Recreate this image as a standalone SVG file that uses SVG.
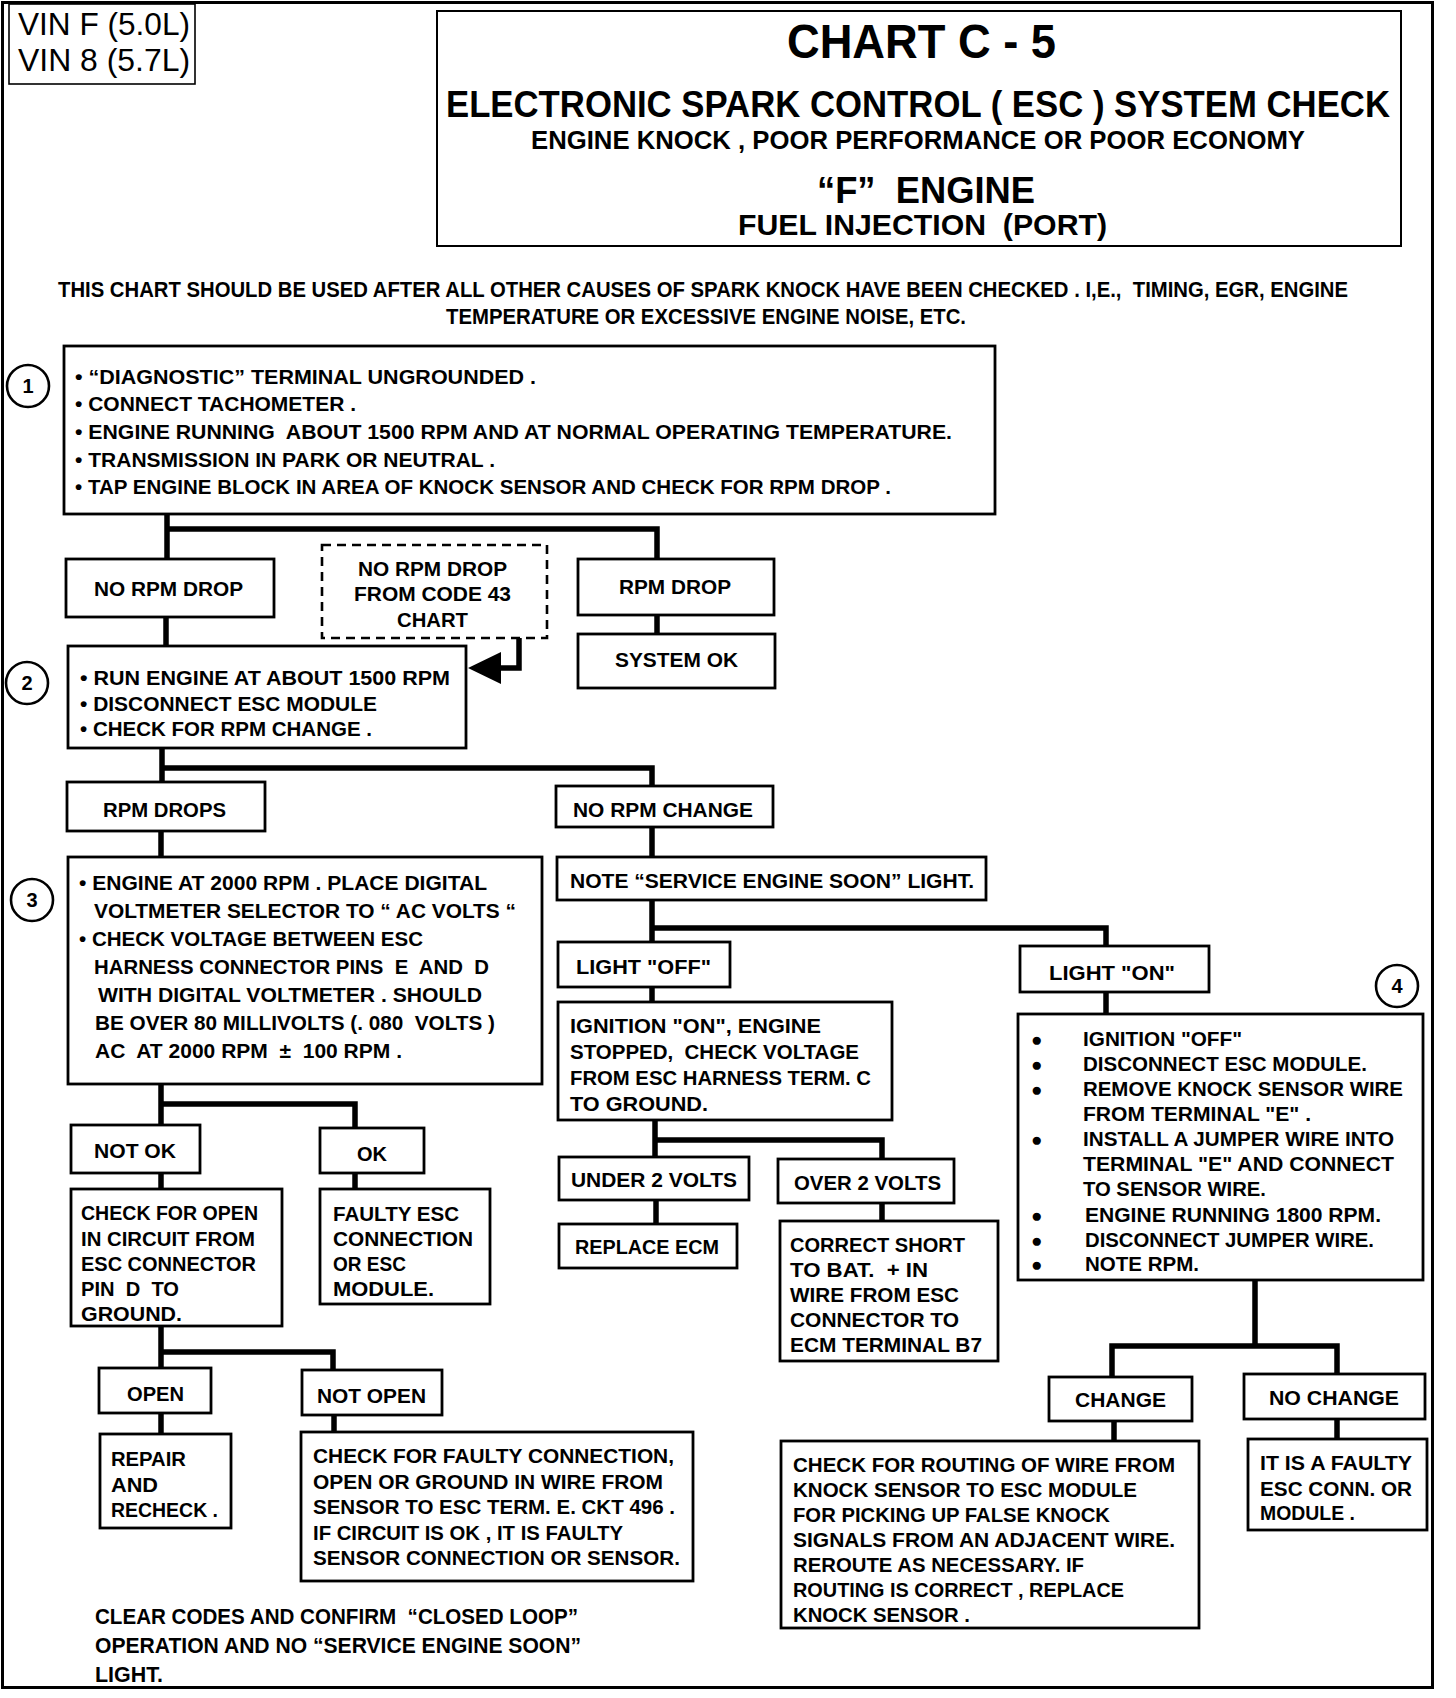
<svg xmlns="http://www.w3.org/2000/svg" width="1456" height="1698" viewBox="0 0 1456 1698">
<style>
.b{fill:#fff;stroke:#000;stroke-width:2.8}
.d{fill:#fff;stroke:#000;stroke-width:2.6;stroke-dasharray:9 6}
.c{fill:none;stroke:#000;stroke-width:5.5;stroke-linecap:square}
text{font-family:"Liberation Sans Narrow","Liberation Sans",Arial,sans-serif;font-weight:bold;font-size:21px;fill:#000}
.v{font-family:"Liberation Sans",Arial,sans-serif;font-weight:normal;font-size:31px}
.i{font-size:22px}
.n{font-family:"Liberation Sans",Arial,sans-serif;font-size:20px;text-anchor:middle}
.bu{font-family:"Liberation Sans",Arial,sans-serif;font-size:19px}
</style>
<rect x="2.5" y="2.5" width="1430" height="1685" fill="#fff" stroke="#000" stroke-width="3"/>

<g id="vin">
<rect x="9" y="4" width="186" height="80" fill="#fff" stroke="#000" stroke-width="1.6"/>
<text class="v" x="18" y="35" textLength="172" lengthAdjust="spacingAndGlyphs">VIN F (5.0L)</text>
<text class="v" x="18" y="71" textLength="172" lengthAdjust="spacingAndGlyphs">VIN 8 (5.7L)</text>
</g>

<g id="title">
<rect x="437" y="11" width="964" height="235" fill="#fff" stroke="#000" stroke-width="2"/>
<text x="787" y="58" style="font-size:49px" textLength="269" lengthAdjust="spacingAndGlyphs">CHART C - 5</text>
<text x="446" y="117" style="font-size:37px" textLength="944" lengthAdjust="spacingAndGlyphs">ELECTRONIC SPARK CONTROL ( ESC ) SYSTEM CHECK</text>
<text x="531" y="149" style="font-size:25px" textLength="774" lengthAdjust="spacingAndGlyphs">ENGINE KNOCK , POOR PERFORMANCE OR POOR ECONOMY</text>
<text x="817" y="203" style="font-size:36px" textLength="218" lengthAdjust="spacingAndGlyphs">“F”&#160; ENGINE</text>
<text x="738" y="235" style="font-size:30px" textLength="369" lengthAdjust="spacingAndGlyphs">FUEL INJECTION&#160; (PORT)</text>
</g>

<g id="intro">
<text class="i" x="58" y="297" textLength="1290" lengthAdjust="spacingAndGlyphs">THIS CHART SHOULD BE USED AFTER ALL OTHER CAUSES OF SPARK KNOCK HAVE BEEN CHECKED . I,E.,&#160; TIMING, EGR, ENGINE</text>
<text class="i" x="446" y="324" textLength="520" lengthAdjust="spacingAndGlyphs">TEMPERATURE OR EXCESSIVE ENGINE NOISE, ETC.</text>
</g>

<g id="connectors">
<path class="c" d="M167 514 V559 M167 529 H657 V559"/>
<path class="c" d="M166 617 V645"/>
<path class="c" d="M657 615 V634"/>
<path class="c" d="M519 638 V668 H498"/>
<polygon points="468,668 501,652 501,684" fill="#000"/>
<path class="c" d="M162 748 V782 M162 768 H652 V786"/>
<path class="c" d="M161 832 V857"/>
<path class="c" d="M652 828 V857"/>
<path class="c" d="M652 900 V942 M652 928 H1106 V946"/>
<path class="c" d="M652 988 V1002"/>
<path class="c" d="M1106 992 V1014"/>
<path class="c" d="M161 1085 V1125 M161 1104 H355 V1128"/>
<path class="c" d="M161 1173 V1189"/>
<path class="c" d="M355 1173 V1189"/>
<path class="c" d="M161 1326 V1368 M161 1352 H333 V1370"/>
<path class="c" d="M161 1413 V1434"/>
<path class="c" d="M334 1415 V1432"/>
<path class="c" d="M655 1120 V1157 M655 1140 H882 V1159"/>
<path class="c" d="M656 1200 V1224"/>
<path class="c" d="M882 1203 V1221"/>
<path class="c" d="M1255 1280 V1346 M1112 1377 V1346 H1337 V1374"/>
<path class="c" d="M1114 1421 V1441"/>
<path class="c" d="M1337 1419 V1439"/>
</g>

<g id="step1">
<circle cx="28" cy="386" r="21" fill="#fff" stroke="#000" stroke-width="2.6"/>
<text class="n" x="28" y="393">1</text>
</g>
<g id="step2">
<circle cx="27" cy="683" r="21" fill="#fff" stroke="#000" stroke-width="2.6"/>
<text class="n" x="27" y="690">2</text>
</g>
<g id="step3">
<circle cx="32" cy="900" r="21" fill="#fff" stroke="#000" stroke-width="2.6"/>
<text class="n" x="32" y="907">3</text>
</g>
<g id="step4">
<circle cx="1397" cy="986" r="21" fill="#fff" stroke="#000" stroke-width="2.6"/>
<text class="n" x="1397" y="993">4</text>
</g>

<g id="box1">
<rect class="b" x="64" y="346" width="931" height="168"/>
<text x="75" y="384" textLength="461" lengthAdjust="spacingAndGlyphs">• “DIAGNOSTIC” TERMINAL UNGROUNDED .</text>
<text x="75" y="411" textLength="281" lengthAdjust="spacingAndGlyphs">• CONNECT TACHOMETER .</text>
<text x="75" y="439" textLength="877" lengthAdjust="spacingAndGlyphs">• ENGINE RUNNING&#160; ABOUT 1500 RPM AND AT NORMAL OPERATING TEMPERATURE.</text>
<text x="75" y="467" textLength="420" lengthAdjust="spacingAndGlyphs">• TRANSMISSION IN PARK OR NEUTRAL .</text>
<text x="75" y="494" textLength="816" lengthAdjust="spacingAndGlyphs">• TAP ENGINE BLOCK IN AREA OF KNOCK SENSOR AND CHECK FOR RPM DROP .</text>
</g>

<g id="no-rpm-drop">
<rect class="b" x="66" y="559" width="208" height="58"/>
<text x="94" y="596" textLength="149" lengthAdjust="spacingAndGlyphs">NO RPM DROP</text>
</g>

<g id="code43">
<rect class="d" x="322" y="545" width="225" height="93"/>
<text x="358" y="576" textLength="149" lengthAdjust="spacingAndGlyphs">NO RPM DROP</text>
<text x="354" y="601" textLength="157" lengthAdjust="spacingAndGlyphs">FROM CODE 43</text>
<text x="397" y="627" textLength="71" lengthAdjust="spacingAndGlyphs">CHART</text>
</g>

<g id="rpm-drop">
<rect class="b" x="578" y="559" width="196" height="56"/>
<text x="619" y="594" textLength="112" lengthAdjust="spacingAndGlyphs">RPM DROP</text>
</g>

<g id="system-ok">
<rect class="b" x="578" y="634" width="197" height="54"/>
<text x="615" y="667" textLength="123" lengthAdjust="spacingAndGlyphs">SYSTEM OK</text>
</g>

<g id="box2">
<rect class="b" x="68" y="646" width="398" height="102"/>
<text x="80" y="685" textLength="370" lengthAdjust="spacingAndGlyphs">• RUN ENGINE AT ABOUT 1500 RPM</text>
<text x="80" y="711" textLength="297" lengthAdjust="spacingAndGlyphs">• DISCONNECT ESC MODULE</text>
<text x="80" y="736" textLength="292" lengthAdjust="spacingAndGlyphs">• CHECK FOR RPM CHANGE .</text>
</g>

<g id="rpm-drops">
<rect class="b" x="67" y="782" width="198" height="49"/>
<text x="103" y="817" textLength="123" lengthAdjust="spacingAndGlyphs">RPM DROPS</text>
</g>

<g id="no-rpm-change">
<rect class="b" x="556" y="786" width="217" height="41"/>
<text x="573" y="817" textLength="180" lengthAdjust="spacingAndGlyphs">NO RPM CHANGE</text>
</g>

<g id="box3">
<rect class="b" x="68" y="857" width="474" height="227"/>
<text x="79" y="890" textLength="408" lengthAdjust="spacingAndGlyphs">• ENGINE AT 2000 RPM . PLACE DIGITAL</text>
<text x="94" y="918" textLength="422" lengthAdjust="spacingAndGlyphs">VOLTMETER SELECTOR TO “ AC VOLTS “</text>
<text x="79" y="946" textLength="344" lengthAdjust="spacingAndGlyphs">• CHECK VOLTAGE BETWEEN ESC</text>
<text x="94" y="974" textLength="395" lengthAdjust="spacingAndGlyphs">HARNESS CONNECTOR PINS&#160; E&#160; AND&#160; D</text>
<text x="98" y="1002" textLength="384" lengthAdjust="spacingAndGlyphs">WITH DIGITAL VOLTMETER . SHOULD</text>
<text x="95" y="1030" textLength="400" lengthAdjust="spacingAndGlyphs">BE OVER 80 MILLIVOLTS (. 080&#160; VOLTS )</text>
<text x="95" y="1058" textLength="307" lengthAdjust="spacingAndGlyphs">AC&#160; AT 2000 RPM&#160; ±&#160; 100 RPM .</text>
</g>

<g id="note">
<rect class="b" x="557" y="857" width="429" height="43"/>
<text x="570" y="888" textLength="404" lengthAdjust="spacingAndGlyphs">NOTE “SERVICE ENGINE SOON” LIGHT.</text>
</g>

<g id="light-off">
<rect class="b" x="558" y="942" width="172" height="45"/>
<text x="576" y="974" textLength="135" lengthAdjust="spacingAndGlyphs">LIGHT "OFF"</text>
</g>

<g id="light-on">
<rect class="b" x="1020" y="946" width="189" height="46"/>
<text x="1049" y="980" textLength="126" lengthAdjust="spacingAndGlyphs">LIGHT "ON"</text>
</g>

<g id="ignition-on">
<rect class="b" x="558" y="1002" width="334" height="118"/>
<text x="570" y="1033" textLength="251" lengthAdjust="spacingAndGlyphs">IGNITION "ON", ENGINE</text>
<text x="570" y="1059" textLength="289" lengthAdjust="spacingAndGlyphs">STOPPED,&#160; CHECK VOLTAGE</text>
<text x="570" y="1085" textLength="301" lengthAdjust="spacingAndGlyphs">FROM ESC HARNESS TERM. C</text>
<text x="570" y="1111" textLength="138" lengthAdjust="spacingAndGlyphs">TO GROUND.</text>
</g>

<g id="box4">
<rect class="b" x="1018" y="1014" width="405" height="266"/>
<text class="bu" x="1031" y="1046">●</text>
<text class="bu" x="1031" y="1071">●</text>
<text class="bu" x="1031" y="1096">●</text>
<text class="bu" x="1031" y="1146">●</text>
<text class="bu" x="1031" y="1222">●</text>
<text class="bu" x="1031" y="1247">●</text>
<text class="bu" x="1031" y="1271">●</text>
<text x="1083" y="1046" textLength="159" lengthAdjust="spacingAndGlyphs">IGNITION "OFF"</text>
<text x="1083" y="1071" textLength="284" lengthAdjust="spacingAndGlyphs">DISCONNECT ESC MODULE.</text>
<text x="1083" y="1096" textLength="320" lengthAdjust="spacingAndGlyphs">REMOVE KNOCK SENSOR WIRE</text>
<text x="1083" y="1121" textLength="228" lengthAdjust="spacingAndGlyphs">FROM TERMINAL "E" .</text>
<text x="1083" y="1146" textLength="311" lengthAdjust="spacingAndGlyphs">INSTALL A JUMPER WIRE INTO</text>
<text x="1083" y="1171" textLength="311" lengthAdjust="spacingAndGlyphs">TERMINAL "E" AND CONNECT</text>
<text x="1083" y="1196" textLength="183" lengthAdjust="spacingAndGlyphs">TO SENSOR WIRE.</text>
<text x="1085" y="1222" textLength="296" lengthAdjust="spacingAndGlyphs">ENGINE RUNNING 1800 RPM.</text>
<text x="1085" y="1247" textLength="289" lengthAdjust="spacingAndGlyphs">DISCONNECT JUMPER WIRE.</text>
<text x="1085" y="1271" textLength="114" lengthAdjust="spacingAndGlyphs">NOTE RPM.</text>
</g>

<g id="not-ok">
<rect class="b" x="71" y="1125" width="129" height="48"/>
<text x="94" y="1158" textLength="82" lengthAdjust="spacingAndGlyphs">NOT OK</text>
</g>

<g id="ok">
<rect class="b" x="320" y="1128" width="104" height="45"/>
<text x="357" y="1161" textLength="30" lengthAdjust="spacingAndGlyphs">OK</text>
</g>

<g id="check-open">
<rect class="b" x="71" y="1189" width="211" height="137"/>
<text x="81" y="1220" textLength="177" lengthAdjust="spacingAndGlyphs">CHECK FOR OPEN</text>
<text x="81" y="1246" textLength="174" lengthAdjust="spacingAndGlyphs">IN CIRCUIT FROM</text>
<text x="81" y="1271" textLength="175" lengthAdjust="spacingAndGlyphs">ESC CONNECTOR</text>
<text x="81" y="1296" textLength="98" lengthAdjust="spacingAndGlyphs">PIN&#160; D&#160; TO</text>
<text x="81" y="1321" textLength="101" lengthAdjust="spacingAndGlyphs">GROUND.</text>
</g>

<g id="faulty-esc">
<rect class="b" x="320" y="1189" width="170" height="115"/>
<text x="333" y="1221" textLength="126" lengthAdjust="spacingAndGlyphs">FAULTY ESC</text>
<text x="333" y="1246" textLength="140" lengthAdjust="spacingAndGlyphs">CONNECTION</text>
<text x="333" y="1271" textLength="73" lengthAdjust="spacingAndGlyphs">OR ESC</text>
<text x="333" y="1296" textLength="101" lengthAdjust="spacingAndGlyphs">MODULE.</text>
</g>

<g id="open">
<rect class="b" x="99" y="1368" width="112" height="45"/>
<text x="127" y="1401" textLength="57" lengthAdjust="spacingAndGlyphs">OPEN</text>
</g>

<g id="not-open">
<rect class="b" x="302" y="1370" width="140" height="45"/>
<text x="317" y="1403" textLength="109" lengthAdjust="spacingAndGlyphs">NOT OPEN</text>
</g>

<g id="repair">
<rect class="b" x="100" y="1434" width="131" height="94"/>
<text x="111" y="1466" textLength="75" lengthAdjust="spacingAndGlyphs">REPAIR</text>
<text x="111" y="1492" textLength="47" lengthAdjust="spacingAndGlyphs">AND</text>
<text x="111" y="1517" textLength="107" lengthAdjust="spacingAndGlyphs">RECHECK .</text>
</g>

<g id="check-faulty">
<rect class="b" x="301" y="1432" width="392" height="149"/>
<text x="313" y="1463" textLength="361" lengthAdjust="spacingAndGlyphs">CHECK FOR FAULTY CONNECTION,</text>
<text x="313" y="1489" textLength="350" lengthAdjust="spacingAndGlyphs">OPEN OR GROUND IN WIRE FROM</text>
<text x="313" y="1514" textLength="362" lengthAdjust="spacingAndGlyphs">SENSOR TO ESC TERM. E. CKT 496 .</text>
<text x="313" y="1540" textLength="310" lengthAdjust="spacingAndGlyphs">IF CIRCUIT IS OK , IT IS FAULTY</text>
<text x="313" y="1565" textLength="367" lengthAdjust="spacingAndGlyphs">SENSOR CONNECTION OR SENSOR.</text>
</g>

<g id="under-2v">
<rect class="b" x="559" y="1157" width="190" height="43"/>
<text x="571" y="1187" textLength="166" lengthAdjust="spacingAndGlyphs">UNDER 2 VOLTS</text>
</g>

<g id="replace-ecm">
<rect class="b" x="559" y="1224" width="178" height="44"/>
<text x="575" y="1254" textLength="144" lengthAdjust="spacingAndGlyphs">REPLACE ECM</text>
</g>

<g id="over-2v">
<rect class="b" x="778" y="1159" width="176" height="44"/>
<text x="794" y="1190" textLength="147" lengthAdjust="spacingAndGlyphs">OVER 2 VOLTS</text>
</g>

<g id="correct-short">
<rect class="b" x="780" y="1221" width="218" height="140"/>
<text x="790" y="1252" textLength="175" lengthAdjust="spacingAndGlyphs">CORRECT SHORT</text>
<text x="790" y="1277" textLength="138" lengthAdjust="spacingAndGlyphs">TO BAT.&#160; + IN</text>
<text x="790" y="1302" textLength="169" lengthAdjust="spacingAndGlyphs">WIRE FROM ESC</text>
<text x="790" y="1327" textLength="169" lengthAdjust="spacingAndGlyphs">CONNECTOR TO</text>
<text x="790" y="1352" textLength="192" lengthAdjust="spacingAndGlyphs">ECM TERMINAL B7</text>
</g>

<g id="change">
<rect class="b" x="1049" y="1377" width="143" height="44"/>
<text x="1075" y="1407" textLength="91" lengthAdjust="spacingAndGlyphs">CHANGE</text>
</g>

<g id="no-change">
<rect class="b" x="1244" y="1374" width="181" height="45"/>
<text x="1269" y="1405" textLength="130" lengthAdjust="spacingAndGlyphs">NO CHANGE</text>
</g>

<g id="check-routing">
<rect class="b" x="781" y="1441" width="418" height="187"/>
<text x="793" y="1472" textLength="382" lengthAdjust="spacingAndGlyphs">CHECK FOR ROUTING OF WIRE FROM</text>
<text x="793" y="1497" textLength="344" lengthAdjust="spacingAndGlyphs">KNOCK SENSOR TO ESC MODULE</text>
<text x="793" y="1522" textLength="317" lengthAdjust="spacingAndGlyphs">FOR PICKING UP FALSE KNOCK</text>
<text x="793" y="1547" textLength="382" lengthAdjust="spacingAndGlyphs">SIGNALS FROM AN ADJACENT WIRE.</text>
<text x="793" y="1572" textLength="291" lengthAdjust="spacingAndGlyphs">REROUTE AS NECESSARY. IF</text>
<text x="793" y="1597" textLength="331" lengthAdjust="spacingAndGlyphs">ROUTING IS CORRECT , REPLACE</text>
<text x="793" y="1622" textLength="177" lengthAdjust="spacingAndGlyphs">KNOCK SENSOR .</text>
</g>

<g id="faulty-conn">
<rect class="b" x="1248" y="1439" width="179" height="91"/>
<text x="1260" y="1470" textLength="152" lengthAdjust="spacingAndGlyphs">IT IS A FAULTY</text>
<text x="1260" y="1496" textLength="152" lengthAdjust="spacingAndGlyphs">ESC CONN. OR</text>
<text x="1260" y="1520" textLength="95" lengthAdjust="spacingAndGlyphs">MODULE .</text>
</g>

<g id="footer">
<text class="i" x="95" y="1624" textLength="483" lengthAdjust="spacingAndGlyphs">CLEAR CODES AND CONFIRM&#160; “CLOSED LOOP”</text>
<text class="i" x="95" y="1653" textLength="486" lengthAdjust="spacingAndGlyphs">OPERATION AND NO “SERVICE ENGINE SOON”</text>
<text class="i" x="95" y="1682" textLength="68" lengthAdjust="spacingAndGlyphs">LIGHT.</text>
</g>
</svg>
